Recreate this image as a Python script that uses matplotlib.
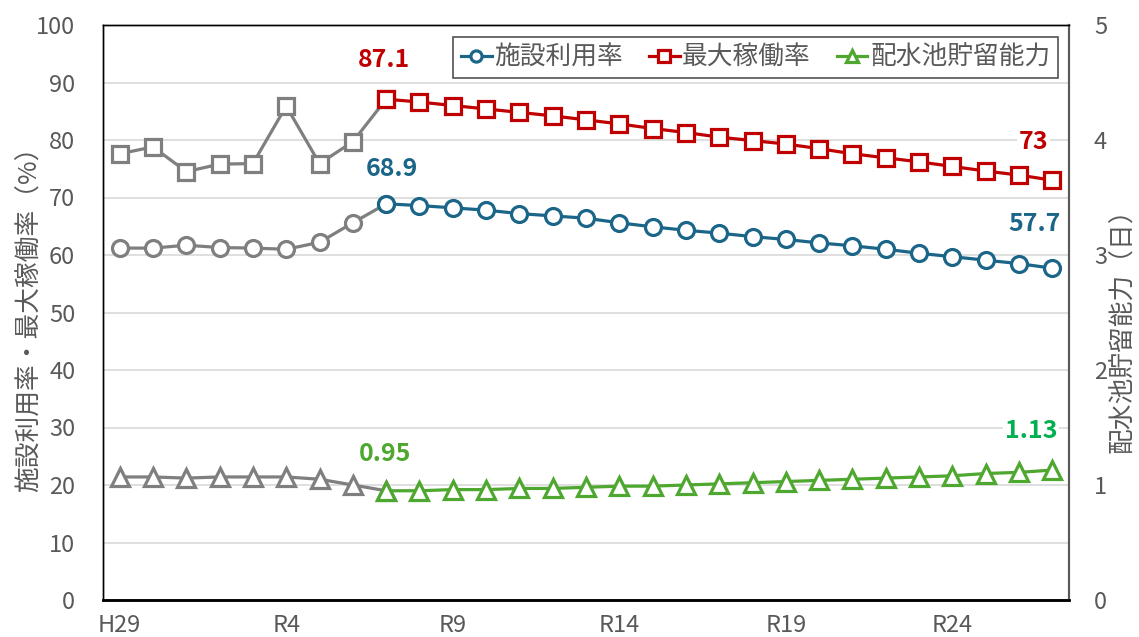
import numpy as np
import matplotlib
matplotlib.use("Agg")
import matplotlib.pyplot as plt

plt.rcParams['font.family'] = ['Noto Sans CJK JP', 'DejaVu Sans']

# 年度ラベル (H29 ... R27)
nendo = ['H29', 'H30'] + ['R%d' % i for i in range(1, 28)]

# 実績 (H29-R6, gray) : R7 の値までつなぐ
riyo_jisseki = [61.2, 61.2, 61.7, 61.3, 61.2, 61.0, 62.2, 65.6, 68.9]
kado_jisseki = [77.6, 78.8, 74.5, 75.8, 75.9, 85.9, 75.9, 79.7, 87.1]
chory_jisseki = [1.07, 1.07, 1.06, 1.07, 1.07, 1.07, 1.05, 1.00, 0.95]

# 推計 (R7-R27)
riyo = [68.9, 68.6, 68.2, 67.8, 67.2, 66.8, 66.4, 65.6, 64.9, 64.3, 63.8,
        63.2, 62.7, 62.1, 61.6, 61.0, 60.3, 59.7, 59.1, 58.5, 57.7]
kado = [87.1, 86.6, 86.0, 85.4, 84.8, 84.2, 83.5, 82.8, 82.0, 81.3, 80.5,
        79.9, 79.3, 78.5, 77.6, 76.9, 76.2, 75.4, 74.6, 73.9, 73.0]
chory = [0.95, 0.95, 0.96, 0.96, 0.97, 0.97, 0.98, 0.99, 0.99, 1.00, 1.01,
         1.02, 1.03, 1.04, 1.05, 1.06, 1.07, 1.08, 1.10, 1.11, 1.13]

#色
gray = '#7F7F7F'
blue = '#1B6688'
red = '#C00000'
green = '#4EA72E'
txt = '#595959'

x_j = np.arange(len(riyo_jisseki))
x_s = np.arange(len(riyo_jisseki) - 1, len(nendo))

fig = plt.figure(figsize=(11.39, 6.37), dpi=100)
ax = fig.add_axes([103/1139, 37/637, 966/1139, 575/637])
ax2 = ax.twinx()

lw = 2.3
ms = 11.5
mew = 2.3

ax.plot(x_j, riyo_jisseki, color=gray, lw=lw, marker='o', ms=ms, mfc='white', mec=gray, mew=mew)
ax.plot(x_j, kado_jisseki, color=gray, lw=lw, marker='s', ms=ms, mfc='white', mec=gray, mew=mew)
l1, = ax.plot(x_s, riyo, color=blue, lw=lw, marker='o', ms=ms, mfc='white', mec=blue, mew=mew, label='施設利用率')
l2, = ax.plot(x_s, kado, color=red, lw=lw, marker='s', ms=ms, mfc='white', mec=red, mew=mew, label='最大稼働率')

ax2.plot(x_j, chory_jisseki, color=gray, lw=lw, marker='^', ms=ms+1, mfc='white', mec=gray, mew=mew)
l3, = ax2.plot(x_s, chory, color=green, lw=lw, marker='^', ms=ms+1, mfc='white', mec=green, mew=mew, label='配水池貯留能力')

ax.set_xlim(-0.5, len(nendo) - 0.5)
ax.set_ylim(0, 100)
ax2.set_ylim(0, 5)
ax.set_yticks(np.arange(0, 101, 10))
ax2.set_yticks(np.arange(0, 6, 1))
ax.set_xticks(np.arange(0, len(nendo), 5))
ax.set_xticklabels([nendo[i] for i in range(0, len(nendo), 5)])

ax.grid(axis='y', color='#D9D9D9', lw=1.2)
ax.set_axisbelow(True)

ax.tick_params(axis='y', length=0, pad=20, labelsize=17, labelcolor=txt)
ax.tick_params(axis='x', length=0, pad=10, labelsize=17, labelcolor=txt)
ax2.tick_params(axis='y', length=0, pad=18, labelsize=17, labelcolor=txt)

for a in (ax, ax2):
    for s in a.spines.values():
        s.set_color('black')
        s.set_linewidth(1)
    a.spines['bottom'].set_linewidth(1.8)
    a.spines['right'].set_color('#595959')
    a.spines['right'].set_linewidth(1.5)

ax.set_ylabel('施設利用率・最大稼働率（%）', fontsize=18.5, color=txt)
ax2.set_ylabel('配水池貯留能力（日）', fontsize=18.5, color=txt)
ax.yaxis.set_label_coords(-0.062, 0.5)
ax2.yaxis.set_label_coords(1.043, 0.48)

# データラベル
def lbl(a, xi, yi, s, c, dx, dy, ha='center'):
    a.annotate(s, (xi, yi), textcoords='offset pixels', xytext=(dx, dy),
               ha=ha, va='center', color=c, fontsize=18, fontweight='bold',
               bbox=dict(facecolor='white', edgecolor='none', pad=1))

lbl(ax, 8, kado[0], '87.1', red, -2, 39)
lbl(ax, 8, riyo[0], '68.9', blue, 6, 35)
lbl(ax2, 8, chory[0], '0.95', green, -1, 37)
lbl(ax, 28, kado[-1], '73', red, -4, 38, ha='right')
lbl(ax, 28, riyo[-1], '57.7', blue, 8, 44, ha='right')
lbl(ax2, 28, chory[-1], '1.13', '#00B050', 5, 39, ha='right')

leg = ax2.legend(handles=[l1, l2, l3], loc='upper right', ncol=3,
                 bbox_to_anchor=(0.9886, 0.9791), borderaxespad=0,
                 fontsize=18.5, frameon=True, fancybox=False, markerscale=0.7,
                 handlelength=1.2, handletextpad=0.1, columnspacing=1.0,
                 borderpad=0.3)
leg.get_frame().set_edgecolor('#262626')
leg.get_frame().set_linewidth(1.2)
for t in leg.get_texts():
    t.set_color(txt)

fig.savefig('out.png', dpi=100)
